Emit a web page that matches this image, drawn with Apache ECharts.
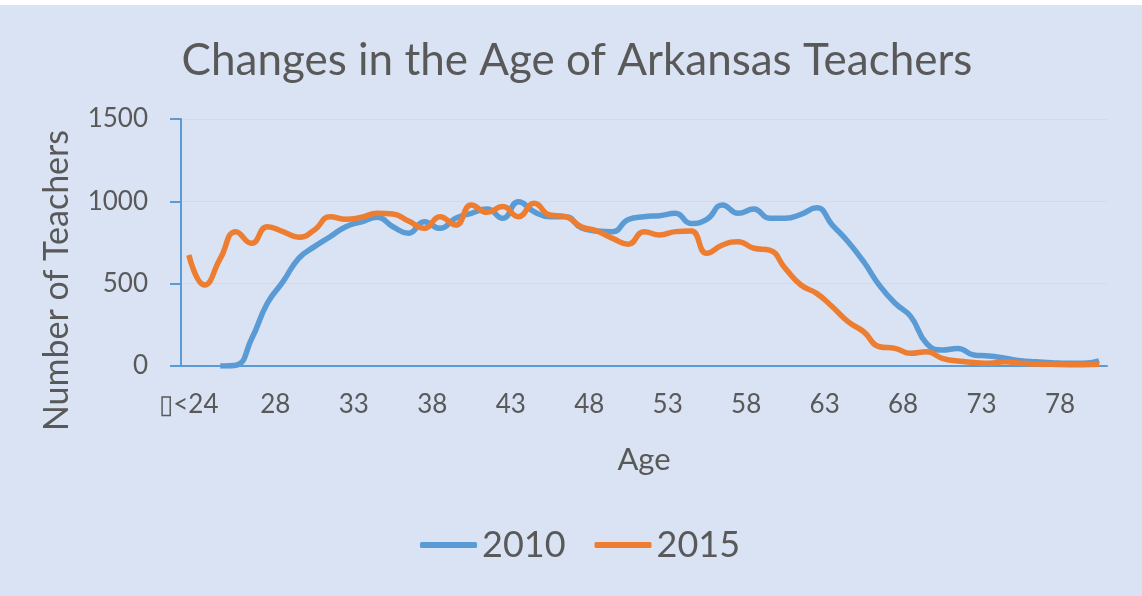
<!DOCTYPE html>
<html>
<head>
<meta charset="utf-8">
<title>Changes in the Age of Arkansas Teachers</title>
<script src="https://cdn.jsdelivr.net/npm/echarts@6/dist/echarts.min.js"></script>
<style>
  html, body { margin: 0; padding: 0; background: #fff; }
  #chart { position: absolute; left: 0; top: 5px; width: 1142px; height: 591px; }
</style>
</head>
<body>
<div id="chart"></div>
<script>
// age buckets on the x axis
var ages = ['<24', '24', '25', '26', '27', '28', '29', '30', '31', '32', '33', '34', '35', '36', '37',
    '38', '39', '40', '41', '42', '43', '44', '45', '46', '47', '48', '49', '50', '51', '52', '53',
    '54', '55', '56', '57', '58', '59', '60', '61', '62', '63', '64', '65', '66', '67', '68', '69',
    '70', '71', '72', '73', '74', '75', '76', '77', '78', '79', '80', '81'];

var teachers2010 = [null, null, 0, 5, 165, 381, 512, 654, 725, 785, 846, 876, 903, 846, 806,
    876, 836, 897, 927, 953, 897, 998, 937, 907, 907, 840, 820, 816, 890, 907, 913,
    927, 866, 890, 978, 927, 953, 897, 897, 921, 961, 856, 755, 633, 490, 381, 300,
    138, 97, 107, 67, 61, 47, 32, 26, 20, 16, 16, 32];

var teachers2015 = [674, 492, 652, 816, 745, 846, 816, 782, 826, 907, 891, 903, 927, 923, 880,
    836, 907, 856, 978, 933, 968, 907, 988, 917, 907, 846, 820, 775, 740, 816, 796,
    816, 820, 684, 735, 755, 715, 704, 593, 492, 441, 360, 269, 208, 117, 107, 77,
    87, 47, 30, 22, 16, 26, 16, 12, 10, 8, 8, 10];

var yTicks = [0, 500, 1000, 1500];

var font = 'Lato';
var textColor = '#595959';
var axisBlue = '#5b9bd5';

var chart = echarts.init(document.getElementById('chart'));
chart.setOption({
    backgroundColor: '#dae3f3',
    animation: false,
    textStyle: { fontFamily: font, color: textColor },
    title: {
        text: 'Changes in the Age of Arkansas Teachers',
        left: 572,
        textAlign: 'center',
        top: 29,
        textStyle: { fontFamily: font, fontSize: 44, fontWeight: 'normal', color: textColor }
    },
    legend: {
        data: ['2010', '2015'],
        top: 522,
        left: 420,
        padding: 0,
        icon: 'roundRect',
        itemWidth: 57,
        itemHeight: 6,
        itemGap: 29,
        textStyle: { fontFamily: font, fontSize: 36, color: textColor }
    },
    grid: { left: 181, right: 35, top: 114, bottom: 230 },
    xAxis: {
        type: 'category',
        data: ages,
        boundaryGap: true,
        name: 'Age',
        nameLocation: 'middle',
        nameGap: 78,
        nameTextStyle: { fontFamily: font, fontSize: 31, color: textColor },
        axisLine: { lineStyle: { color: axisBlue, width: 2 } },
        axisTick: { show: false },
        axisLabel: {
            interval: 4,
            margin: 26,
            fontFamily: font,
            fontSize: 26,
            color: textColor,
            formatter: function (v, i) {
                return i === 0 ? '\u25AF<24' : '{n|' + v + '}';
            },
            rich: {
                n: { padding: [0, 0, 0, 16], fontFamily: font, fontSize: 26, color: textColor }
            }
        }
    },
    yAxis: {
        type: 'value',
        min: yTicks[0],
        max: yTicks[yTicks.length - 1],
        interval: 500,
        name: 'Number of Teachers',
        nameLocation: 'middle',
        nameGap: 107,
        nameTextStyle: { fontFamily: font, fontSize: 34, color: textColor, padding: [0, 76, 0, 0] },
        axisLine: { show: true, lineStyle: { color: axisBlue, width: 2 } },
        axisTick: { show: true, length: 11, lineStyle: { color: axisBlue, width: 2 } },
        axisLabel: {
            margin: 33, fontFamily: font, fontSize: 26, color: textColor,
            formatter: function (v) { return String(v); }
        },
        splitLine: { lineStyle: { color: '#d9d9d9', width: 1 } }
    },
    series: [
        {
            name: '2010',
            type: 'line',
            data: teachers2010,
            smooth: true,
            showSymbol: false,
            symbol: 'none',
            itemStyle: { color: '#5b9bd5' },
            lineStyle: { color: '#5b9bd5', width: 5.5 }
        },
        {
            name: '2015',
            type: 'line',
            data: teachers2015,
            smooth: true,
            showSymbol: false,
            symbol: 'none',
            itemStyle: { color: '#ed7d31' },
            lineStyle: { color: '#ed7d31', width: 5.5 }
        }
    ]
});
</script>
</body>
</html>
